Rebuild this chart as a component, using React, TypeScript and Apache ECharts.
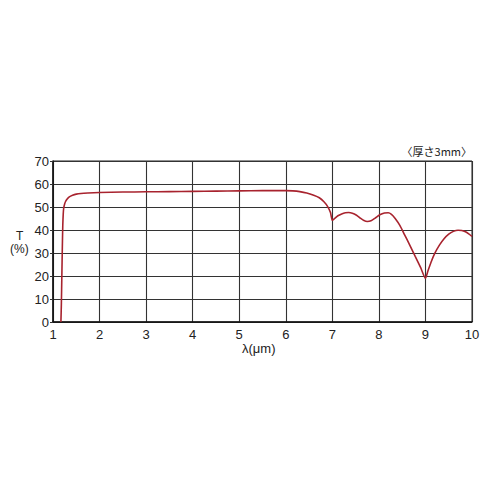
import React, { useEffect, useRef } from "react";
import * as echarts from "echarts";

// wavelength (µm) and transmittance (%)
const wavelength = [
  1.17, 1.18, 1.19, 1.2, 1.21, 1.22, 1.23, 1.25, 1.27, 1.3, 1.35, 1.42, 1.5, 1.6, 1.75, 2,
  2.5, 3, 3.5, 4, 4.5, 5, 5.5, 6, 6.15, 6.3, 6.45, 6.6, 6.72, 6.82, 6.9, 6.96, 7.0,
  7.05, 7.12, 7.2, 7.28, 7.35, 7.43, 7.52, 7.6, 7.68, 7.75, 7.83, 7.92, 8.02, 8.12, 8.2,
  8.27, 8.35, 8.45, 8.55, 8.65, 8.78, 8.9, 9.0,
  9.05, 9.12, 9.2, 9.3, 9.4, 9.5, 9.6, 9.7, 9.78, 9.86, 9.93, 10,
];
const transmittance = [
  0, 8, 20, 32, 42, 47, 49.5, 51.3, 52.4, 53.4, 54.4, 55.1, 55.6, 55.9, 56.1, 56.3,
  56.5, 56.6, 56.7, 56.8, 56.9, 57, 57.1, 57.1, 57, 56.7, 56.1, 55.1, 54, 52.3, 50.2, 47.6, 44.2,
  45, 46.2, 47, 47.5, 47.6, 47.3, 46.4, 45.2, 44.1, 43.7, 44, 45.2, 46.6, 47.4, 47.5,
  46.8, 45, 42, 38, 34, 28.5, 23.5, 19,
  22, 26, 29.8, 33.4, 36.2, 38.2, 39.4, 39.9, 39.8, 39.2, 38.3, 37.2,
];

const xTicks = [1, 10, 1];
const yTicks = [0, 70, 10];

const App = () => {
  const el = useRef<HTMLDivElement>(null);

  useEffect(() => {
    document.body.style.margin = "0";
    if (!el.current) return;
    const chart = echarts.init(el.current, null, { renderer: "svg" });
    const font = "'Liberation Sans', Arial, sans-serif";
    chart.setOption({
      animation: false,
      backgroundColor: "#fff",
      textStyle: { fontFamily: font },
      grid: {
        left: 53,
        right: 28,
        top: 161,
        bottom: 178,
        show: true,
        borderColor: "#222",
        borderWidth: 1,
      },
      xAxis: {
        type: "value",
        min: xTicks[0],
        max: xTicks[1],
        interval: xTicks[2],
        axisLine: { lineStyle: { color: "#111", width: 1.5 } },
        axisTick: { show: false },
        axisLabel: { color: "#222", fontSize: 13, margin: 6, fontFamily: font },
        splitLine: { lineStyle: { color: "#333", width: 1.1 } },
      },
      yAxis: {
        type: "value",
        min: yTicks[0],
        max: yTicks[1],
        interval: yTicks[2],
        axisLine: { show: true, lineStyle: { color: "#111", width: 1.5 } },
        axisTick: { show: true, length: 3, lineStyle: { color: "#333" } },
        axisLabel: { color: "#222", fontSize: 13, margin: 4, fontFamily: font },
        splitLine: { lineStyle: { color: "#333", width: 1.1 } },
      },
      graphic: [
        {
          type: "text",
          left: 16,
          top: 230,
          style: { text: "T", fill: "#222", font: `12px ${font}` },
        },
        {
          type: "text",
          left: 10,
          top: 243,
          style: { text: "(%)", fill: "#222", font: `12px ${font}` },
        },
        {
          type: "text",
          left: 242,
          top: 342,
          style: {
            text: "λ(μm)",
            fill: "#222",
            font: `13px ${font}`,
          },
        },
        {
          type: "text",
          right: 28,
          top: 145,
          style: { text: "〈厚さ3mm〉", fill: "#222", font: `11px 'Noto Sans CJK JP', sans-serif` },
        },
      ],
      series: [
        {
          type: "line",
          data: wavelength.map((x, i) => [x, transmittance[i]]),
          showSymbol: false,
          smooth: 0.2,
          lineStyle: { color: "#a8232e", width: 1.6 },
        },
      ],
    });
    return () => chart.dispose();
  }, []);

  return <div ref={el} style={{ width: 500, height: 500 }} />;
};

export default App;
